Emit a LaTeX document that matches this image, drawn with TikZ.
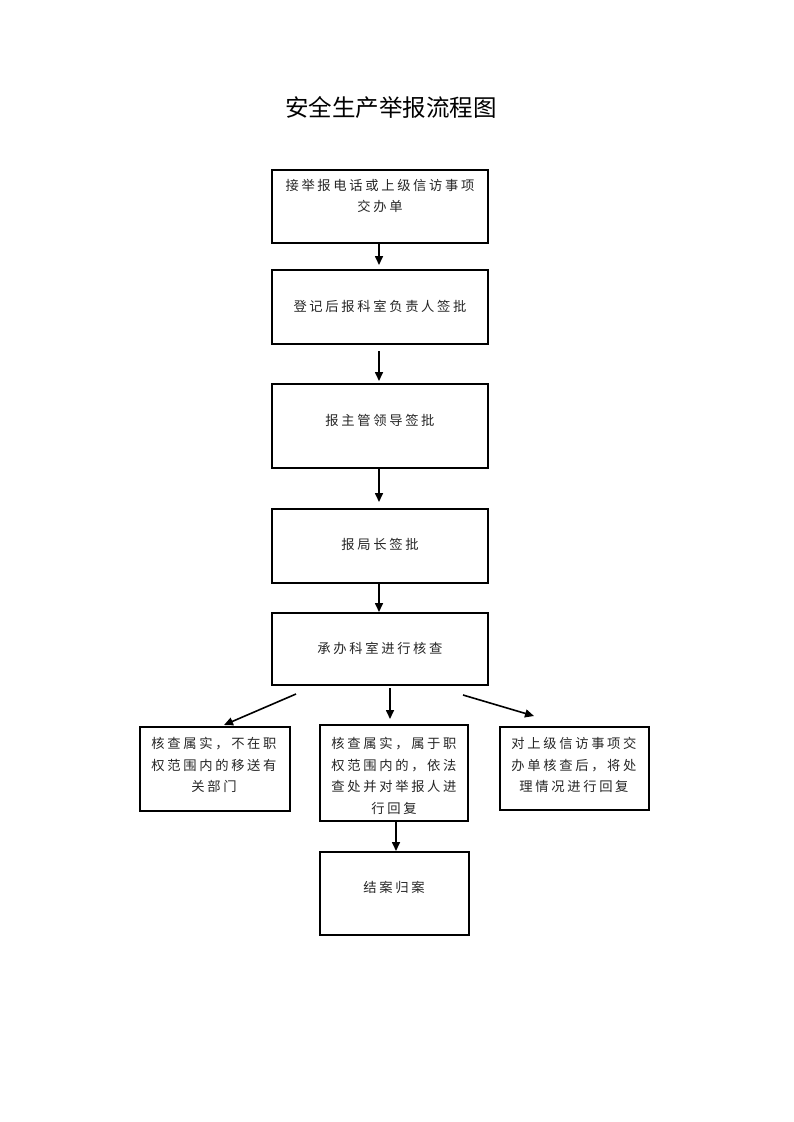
\documentclass[tikz,border=0pt]{standalone}
\usepackage{fontspec}
\usetikzlibrary{arrows.meta}
\newfontfamily\cjkbody[LetterSpace=20]{Noto Sans CJK SC}
\newfontfamily\cjktitle{Noto Sans CJK SC}
\begin{document}
\begin{tikzpicture}[x=1pt,y=-1pt,
  box/.style={draw=black,line width=1.7pt,rectangle,inner sep=0pt,anchor=north west},
  txt/.style={align=center,inner sep=0pt,text=black!85,font=\cjkbody\fontsize{13.3}{21.5}\selectfont},
  arr/.style={line width=1.6pt,-{Triangle[length=9pt,width=8pt]}}]
\useasboundingbox (0,0) rectangle (793,1122);
\fill[white] (0,0) rectangle (793,1122);
\node[font=\cjktitle\fontsize{23.5}{28}\selectfont,inner sep=0pt] (title) at (391,108) {安全生产举报流程图};
% main boxes
\node[box,minimum width=216pt,minimum height=73pt] (b1) at (271,169) {};
\node[box,minimum width=216pt,minimum height=74pt] (b2) at (271,269) {};
\node[box,minimum width=216pt,minimum height=84pt] (b3) at (271,383) {};
\node[box,minimum width=216pt,minimum height=74pt] (b4) at (271,508) {};
\node[box,minimum width=216pt,minimum height=72pt] (b5) at (271,612) {};
\node[box,minimum width=150pt,minimum height=84pt] (bl) at (139,726) {};
\node[box,minimum width=148pt,minimum height=96pt] (bm) at (319,724) {};
\node[box,minimum width=149pt,minimum height=83pt] (br) at (499,726) {};
\node[box,minimum width=149pt,minimum height=83pt] (bf) at (319,851) {};
% texts
\node[txt] (t1) at (380,196) {接举报电话或上级信访事项\\交办单};
\node[txt] (t2) at (380,306) {登记后报科室负责人签批};
\node[txt] (t3) at (380,420) {报主管领导签批};
\node[txt] (t4) at (380,544) {报局长签批};
\node[txt] (t5) at (380,648) {承办科室进行核查};
\node[txt] (tl) at (214,765) {核查属实，不在职\\权范围内的移送有\\关部门};
\node[txt] (tm) at (394,776) {核查属实，属于职\\权范围内的，依法\\查处并对举报人进\\行回复};
\node[txt] (tr) at (574,765) {对上级信访事项交\\办单核查后，将处\\理情况进行回复};
\node[txt] (tf) at (394,887) {结案归案};
% arrow ends
\coordinate (s1) at (379,242);
\coordinate (e1) at (379,265);
\coordinate (s2) at (379,351);
\coordinate (e2) at (379,381);
\coordinate (s3) at (379,469);
\coordinate (e3) at (379,502);
\coordinate (s4) at (379,582);
\coordinate (e4) at (379,612);
\coordinate (sl) at (296,694);
\coordinate (el) at (224,725);
\coordinate (sm) at (390,688);
\coordinate (em) at (390,719);
\coordinate (sr) at (463,695);
\coordinate (er) at (534,716);
\coordinate (sf) at (396,820);
\coordinate (ef) at (396,851);
\draw[arr] (s1) -- (e1);
\draw[arr] (s2) -- (e2);
\draw[arr] (s3) -- (e3);
\draw[arr] (s4) -- (e4);
\draw[arr] (sl) -- (el);
\draw[arr] (sm) -- (em);
\draw[arr] (sr) -- (er);
\draw[arr] (sf) -- (ef);
\end{tikzpicture}
\end{document}
